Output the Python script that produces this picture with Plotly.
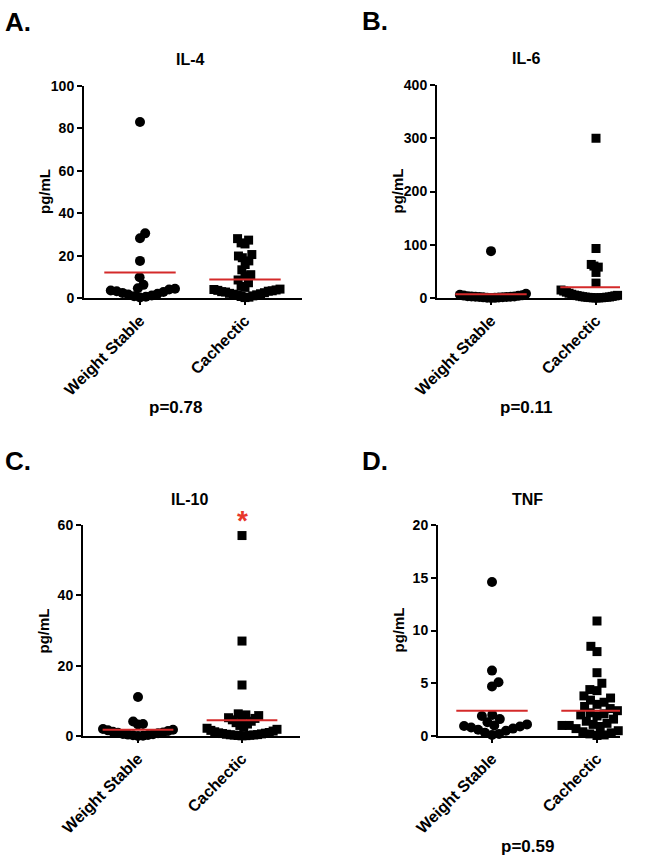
import math
import plotly.graph_objects as go

W, H = 652, 862
FONT = "Liberation Sans, Arial, Helvetica, sans-serif"
RED = "#d42a2a"

groups = ["Weight Stable", "Cachectic"]

# IL-4
il4_ws = [83, 30.5, 28.2, 17.5, 9.8, 6.2, 4.6, 4.4, 4.0, 3.5, 2.8, 2.0, 1.2,
          0.6, 0.2, 0.8, 1.6, 2.4, 3.2]
il4_cach = [28, 27.3, 26, 25.5, 20.5, 19.8, 19, 17.5, 15.8, 13.3, 11, 10.5, 8.5,
            7.2, 5.5, 5, 4.2, 4.0, 3.8, 3.6, 3.4, 3.2, 3.0, 2.8, 2.5, 2.2, 2.0,
            1.8, 1.5, 1.2, 1.0, 0.7, 0.4, 0.2]
il4_means = [12.0, 8.7]
il4_ticks = [0, 20, 40, 60, 80, 100]

# IL-6
il6_ws = [88, 8, 6, 5, 4.5, 4, 3.5, 3, 2.8, 2.5, 2.2, 2, 1.8, 1.5, 1.2, 1,
          0.6, 0.3, 0.1]
il6_cach = [300, 93, 63, 60, 58, 48, 28, 15, 14, 13, 12, 11, 10, 9, 8, 7, 6,
            5.5, 5, 4.5, 4, 3.5, 3, 2.5, 2, 1.8, 1.5, 1.2, 1, 0.8, 0.5, 0.3,
            0.2, 0.1]
il6_means = [7.0, 20.0]
il6_ticks = [0, 100, 200, 300, 400]

# IL-10
il10_ws = [11.1, 4.1, 3.4, 3.3, 2.0, 1.8, 1.6, 1.4, 1.2, 1.0, 0.9, 0.8, 0.6,
           0.5, 0.4, 0.3, 0.2, 0.1, 0.0]
il10_cach = [57, 27, 14.5, 6.3, 6.0, 5.8, 5.5, 5.2, 5.0, 4.6, 4.2, 3.8, 3.4,
             3.0, 2.6, 2.2, 1.9, 1.6, 1.4, 1.2, 1.0, 0.9, 0.8, 0.7, 0.6, 0.5,
             0.4, 0.35, 0.3, 0.25, 0.2, 0.15, 0.1, 0.05]
il10_means = [1.8, 4.5]
il10_ticks = [0, 20, 40, 60]
il10_star = 62.5  # height of the red significance star

# TNF
tnf_ws = [14.6, 6.2, 5.1, 4.7, 2.0, 1.9, 1.6, 1.3, 1.1, 1.0, 0.95, 0.9, 0.8,
          0.7, 0.6, 0.5, 0.3, 0.2, 0.1]
tnf_cach = [10.9, 8.5, 8.0, 6.0, 5.0, 4.4, 4.3, 3.8, 3.6, 3.4, 3.2, 3.0, 2.8,
            2.6, 2.4, 2.2, 2.1, 2.0, 1.9, 1.6, 1.4, 1.2, 1.1, 1.0, 1.0, 0.9,
            0.8, 0.7, 0.5, 0.4, 0.3, 0.2, 0.1, 0.05]
tnf_means = [2.4, 2.4]
tnf_ticks = [0, 5, 10, 15, 20]

panels = [
    dict(letter="A.", title="IL-4", ws=il4_ws, cach=il4_cach, means=il4_means,
         ticks=il4_ticks, pval="p=0.78",
         box=(84, 302, 86, 298), centers=(140, 245)),
    dict(letter="B.", title="IL-6", ws=il6_ws, cach=il6_cach, means=il6_means,
         ticks=il6_ticks, pval="p=0.11",
         box=(437, 620, 85, 298), centers=(491, 596)),
    dict(letter="C.", title="IL-10", ws=il10_ws, cach=il10_cach, means=il10_means,
         ticks=il10_ticks, pval=None,
         box=(83, 300, 525, 736), centers=(138, 242)),
    dict(letter="D.", title="TNF", ws=tnf_ws, cach=tnf_cach, means=tnf_means,
         ticks=tnf_ticks, pval="p=0.59",
         box=(438, 620, 525, 736), centers=(492, 597)),
]


def swarm(values, ppy, d=10.0, limit=35.0):
    # simple beeswarm in pixel space, lowest value first
    order = sorted(range(len(values)), key=lambda i: values[i])
    placed = []
    xs = [0.0] * len(values)
    side = 1
    for i in order:
        y = values[i] * ppy
        cands = [0.0]
        for px, py in placed:
            dy = abs(y - py)
            if dy < d:
                dx = math.sqrt(d * d - dy * dy)
                cands += [px - dx, px + dx]
        cands.sort(key=lambda c: (round(abs(c), 3), -side * c))
        for c in cands:
            if all((c - px) ** 2 + (y - py) ** 2 >= d * d - 1e-6 for px, py in placed):
                break
        if c != 0:
            side = -side
        xs[i] = c
        placed.append((c, y))
    m = max(abs(x) for x in xs) if xs else 0
    if m > limit:
        xs = [x * limit / m for x in xs]
    return xs


def fx(x):
    return x / W


def fy(y):
    return 1 - y / H


def note(text, x, y, size, color="black", **kw):
    return dict(text=text, x=fx(x), y=fy(y), xref="paper", yref="paper",
                xanchor="center", yanchor="middle", showarrow=False,
                font=dict(family=FONT, size=size, color=color, weight="bold"), **kw)


fig = go.Figure()
annotations = []
layout = {}

for k, p in enumerate(panels):
    n = "" if k == 0 else str(k + 1)
    x0, x1, y0, y1 = p["box"]
    c0, c1 = p["centers"]
    ppx = c1 - c0
    ppy = (y1 - y0) / p["ticks"][-1]
    xr = [(x0 - c0) / ppx, (x1 - c0) / ppx]

    for gi, (vals, sym, size) in enumerate([(p["ws"], "circle", 10), (p["cach"], "square", 9)]):
        offs = swarm(vals, ppy)
        fig.add_trace(go.Scatter(
            x=[gi + o / ppx for o in offs], y=vals, mode="markers",
            marker=dict(symbol=sym, size=size, color="black", line=dict(width=0)),
            cliponaxis=False, showlegend=False, hoverinfo="y",
            xaxis="x" + n, yaxis="y" + n))
    for gi, m in enumerate(p["means"]):
        fig.add_trace(go.Scatter(
            x=[gi - 0.34, gi + 0.34], y=[m, m], mode="lines",
            line=dict(color=RED, width=2), cliponaxis=False, showlegend=False,
            hoverinfo="y", xaxis="x" + n, yaxis="y" + n))

    axis_common = dict(showline=True, linewidth=2, linecolor="black",
                       ticks="outside", ticklen=5, tickwidth=2, tickcolor="black",
                       showgrid=False, zeroline=False, fixedrange=True,
                       automargin=False,
                       tickfont=dict(family=FONT, size=14, color="black", weight="bold"))
    layout["xaxis" + n] = dict(axis_common, domain=[fx(x0), fx(x1)], range=xr,
                               tickvals=[0, 1], ticktext=groups, tickangle=-45,
                               anchor="y" + n,
                               tickfont=dict(family=FONT, size=16, color="black", weight="bold"))
    layout["yaxis" + n] = dict(axis_common, domain=[fy(y1), fy(y0)],
                               range=[0, p["ticks"][-1]], tickvals=p["ticks"],
                               anchor="x" + n)

    col_x = 18 if k % 2 == 0 else 375
    annotations.append(note(p["letter"], col_x, y0 - 64, 26))
    annotations.append(note(p["title"], (x0 + x1) / 2 - 2, y0 - 26, 16))
    annotations.append(note("pg/mL", x0 - 40, (y0 + y1) / 2, 15, textangle=-90))
    if p["pval"]:
        annotations.append(note(p["pval"], c0 + 35, y1 + 110, 17))

    if p["title"] == "IL-10":
        # significance star above the cachectic group
        annotations.append(note("*", c1, y1 - il10_star * ppy + 4, 28, color="#e8382b"))

fig.update_layout(width=W, height=H, autosize=False,
                  margin=dict(l=0, r=0, t=0, b=0, pad=0),
                  paper_bgcolor="white", plot_bgcolor="white",
                  annotations=annotations, **layout)

fig.write_html("out.html", config={"responsive": False, "displayModeBar": False},
               post_script="document.body.style.margin='0';")
